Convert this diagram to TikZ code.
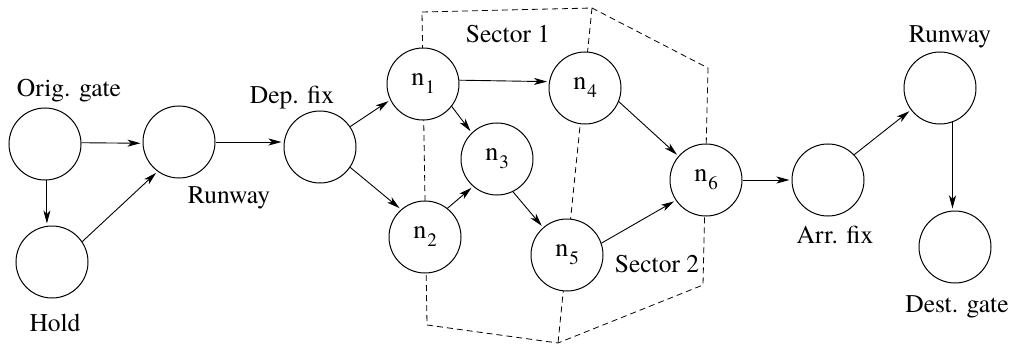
\documentclass[tikz,border=0pt]{standalone}
\usepackage{fontspec}
\setmainfont{texgyretermes}[Extension=.otf,UprightFont=*-regular]
\usetikzlibrary{arrows.meta}
% node label n with a lowered index
\newcommand\nidx[1]{\fontsize{26}{26}\selectfont n\kern1pt\raisebox{-8pt}{\fontsize{19}{19}\selectfont #1}}

\begin{document}
\begin{tikzpicture}[x=1pt,y=-1pt,
  state/.style={circle,draw,fill=white,line width=1pt,minimum size=72pt,inner sep=0pt},
  lbl/.style={anchor=base,font=\fontsize{25.5}{25.5}\selectfont,inner sep=0pt},
  flow/.style={-{Stealth[length=13pt,width=7pt,inset=3.5pt]},line width=0.9pt,shorten >=2pt},
  sector/.style={dash pattern=on 6pt off 4pt,line width=0.8pt}]
\useasboundingbox (0,0) rectangle (1013,345);

% sector boundaries
\draw[sector] (422,12) -- (592,8) -- (708,68) -- (703,285) -- (558,343) -- (427,325) -- cycle;
\draw[sector] (592,8) -- (558,343);

% states
\node[state] (og)   at (45,144)  {};
\node[state] (hold) at (52,262)  {};
\node[state] (rwl)  at (179,142) {};
\node[state] (dep)  at (320,147) {};
\node[state] (n1)   at (423,84)  {\nidx{1}};
\node[state] (n2)   at (425,237) {\nidx{2}};
\node[state] (n3)   at (497,159) {\nidx{3}};
\node[state] (n4)   at (585,88)  {\nidx{4}};
\node[state] (n5)   at (567,255) {\nidx{5}};
\node[state] (n6)   at (706,180) {\nidx{6}};
\node[state] (arr)  at (828,180) {};
\node[state] (rwr)  at (940,88)  {};
\node[state] (dest) at (955,247) {};

% labels
\node[lbl] (tog)   at (69,97)   {Orig. gate};
\node[lbl] (thold) at (55,331)  {Hold};
\node[lbl] (trwl)  at (229,203) {Runway};
\node[lbl] (tdep)  at (292,103) {Dep. fix};
\node[lbl] (ts1)   at (508,43)  {Sector 1};
\node[lbl] (ts2)   at (657,272) {Sector 2};
\node[lbl] (tarr)  at (835,243) {Arr. fix};
\node[lbl] (tdest) at (957,312) {Dest. gate};
\node[lbl] (trwr)  at (950,43)  {Runway};

% transitions
\draw[flow] (og.2) -- (rwl.182);
\draw[flow] (og.-87) -- (og.-87 |- hold.north);
\draw[flow] (hold.34) -- (rwl.234);
\draw[flow] (rwl.east) -- (rwl.east -| dep.west);
\draw[flow] (dep.34) -- (n1.206);
\draw[flow] (dep.-34) -- (n2.131);
\draw[flow] (n1.6) -- (n4.170);
\draw[flow] (n1.-38) -- (n3.134);
\draw[flow] (n2.52) -- (n3.229);
\draw[flow] (n3.-64) -- (n5.131);
\draw[flow] (n4.-22) -- (n6.139);
\draw[flow] (n5.19) -- (n6.214);
\draw[flow] (n6) -- (arr);
\draw[flow] (arr.44) -- (rwr.217);
\draw[flow] (rwr.-70.5) -- (rwr.-70.5 |- dest.north);
\end{tikzpicture}
\end{document}
